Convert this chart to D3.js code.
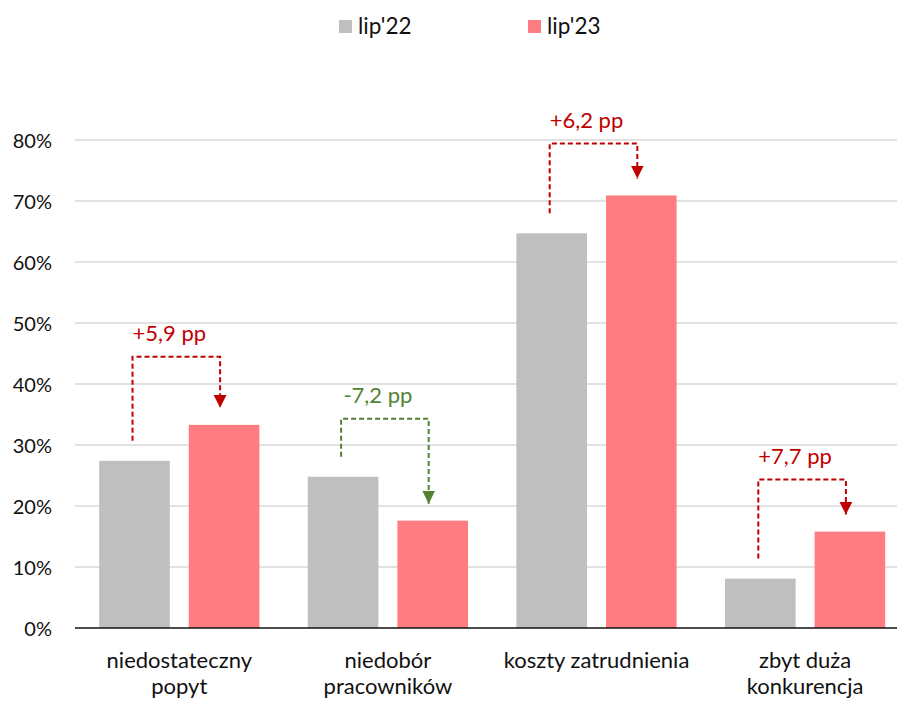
<!DOCTYPE html>
<html>
<head>
<meta charset="utf-8">
<script src="https://cdn.jsdelivr.net/npm/d3@7"></script>
<style>
  html, body { margin: 0; padding: 0; background: #fff; }
  svg { display: block; font-family: Lato, "Open Sans", sans-serif; }
</style>
</head>
<body>
<svg id="chart" width="897" height="702"></svg>
<script>
// Categories (labels split into lines)
const categories = ["niedostateczny popyt", "niedobór pracowników", "koszty zatrudnienia", "zbyt duża konkurencja"];
const categoryLines = [["niedostateczny", "popyt"], ["niedobór", "pracowników"], ["koszty zatrudnienia"], ["zbyt duża", "konkurencja"]];

// Series (share of firms, %)
const seriesNames = ["lip'22", "lip'23"];
const lip22 = [27.4, 24.8, 64.7, 8.1];
const lip23 = [33.3, 17.6, 70.9, 15.8];

// Change annotations (percentage points)
const changeLabels = ["+5,9 pp", "-7,2 pp", "+6,2 pp", "+7,7 pp"];

// Y axis ticks
const yTicks = [0, 10, 20, 30, 40, 50, 60, 70, 80];

const colors = ["#BFBFBF", "#FF7C80"];
const upColor = "#C00000", downColor = "#548235";

const svg = d3.select("#chart");
const W = 897, H = 702;
const plotLeft = 75, plotRight = 909.4, plotTop = 140, plotBottom = 628;

const x = d3.scaleBand().domain(categories).range([plotLeft, plotRight]).paddingInner(0).paddingOuter(0);
const inner = d3.scaleBand().domain(seriesNames).range([0, x.bandwidth()]).paddingInner(0.212).paddingOuter(0.27);
const y = d3.scaleLinear().domain([0, 80]).range([plotBottom, plotTop]);

// Gridlines
svg.append("g").selectAll("line").data(yTicks.filter(t => t > 0)).join("line")
  .attr("x1", plotLeft).attr("x2", W)
  .attr("y1", d => y(d)).attr("y2", d => y(d))
  .attr("stroke", "#D9D9D9").attr("stroke-width", 1.5);

// Y axis labels
const yAxis = svg.append("g").attr("transform", `translate(${plotLeft - 23},0)`)
  .call(d3.axisLeft(y).tickValues(yTicks).tickFormat(d => d + "%").tickSize(0).tickPadding(0));
yAxis.select(".domain").remove();
yAxis.selectAll("text").attr("font-size", 20).attr("fill", "#111").attr("font-family", "Lato, sans-serif").attr("dy", "0.36em");

// Bars
const rows = categories.map((c, i) => ({ cat: c, vals: [lip22[i], lip23[i]] }));
const groups = svg.append("g").selectAll("g").data(rows).join("g")
  .attr("transform", d => `translate(${x(d.cat)},0)`);
groups.selectAll("rect").data(d => d.vals.map((v, j) => ({ v, s: seriesNames[j], j })))
  .join("rect")
  .attr("x", d => inner(d.s))
  .attr("width", inner.bandwidth())
  .attr("y", d => y(d.v))
  .attr("height", d => y(0) - y(d.v))
  .attr("fill", d => colors[d.j]);

// Baseline
svg.append("line")
  .attr("x1", plotLeft).attr("x2", W)
  .attr("y1", y(0)).attr("y2", y(0))
  .attr("stroke", "#111").attr("stroke-width", 1.5);

// Category labels
const catLbl = svg.append("g").selectAll("text").data(categories).join("text")
  .attr("x", d => x(d) + x.bandwidth() / 2)
  .attr("y", y(0) + 40)
  .attr("text-anchor", "middle")
  .attr("font-size", 22).attr("fill", "#111");
catLbl.each(function (d, i) {
  d3.select(this).selectAll("tspan").data(categoryLines[i]).join("tspan")
    .attr("x", x(d) + x.bandwidth() / 2)
    .attr("dy", (t, k) => k === 0 ? 0 : 26)
    .text(t => t);
});

// Change brackets: dashed path from lip'22 bar up, across, down to arrow on lip'23 bar
const bracketRise = [68, 58, 52, 52];
const defs = svg.append("defs");
[upColor, downColor].forEach((c, k) => {
  defs.append("marker")
    .attr("id", "arrow" + k)
    .attr("viewBox", "0 0 10 10")
    .attr("refX", 10).attr("refY", 5)
    .attr("markerWidth", 13).attr("markerHeight", 13)
    .attr("markerUnits", "userSpaceOnUse")
    .attr("orient", "auto")
    .append("path").attr("d", "M0,0 L10,5 L0,10 Z").attr("fill", c);
});

rows.forEach((d, i) => {
  const up = d.vals[1] >= d.vals[0];
  const col = up ? upColor : downColor;
  const xa = x(d.cat) + inner(seriesNames[0]) + inner.bandwidth() / 2 - 2;
  const xb = x(d.cat) + inner(seriesNames[1]) + inner.bandwidth() / 2 - 4;
  const ya = y(d.vals[0]) - 20;
  const yb = y(d.vals[1]) - 17;
  const top = y(Math.max(d.vals[0], d.vals[1])) - bracketRise[i];
  svg.append("path")
    .attr("d", `M${xa},${ya} V${top} H${xb} V${yb}`)
    .attr("fill", "none").attr("stroke", col).attr("stroke-width", 2)
    .attr("stroke-dasharray", "5,3")
    .attr("marker-end", `url(#arrow${up ? 0 : 1})`);
  svg.append("text")
    .attr("x", (xa + xb) / 2 - 7)
    .attr("y", top - 16)
    .attr("text-anchor", "middle")
    .attr("font-size", 22).attr("fill", col)
    .text(changeLabels[i]);
});

// Legend
const legend = svg.append("g").attr("transform", "translate(339,20)");
const legX = [0, 189];
seriesNames.forEach((s, j) => {
  const g = legend.append("g").attr("transform", `translate(${legX[j]},0)`);
  g.append("rect").attr("width", 13).attr("height", 13).attr("fill", colors[j]);
  g.append("text").attr("x", 19).attr("y", 14).attr("font-size", 22.5).attr("fill", "#111").text(s);
});
</script>
</body>
</html>
